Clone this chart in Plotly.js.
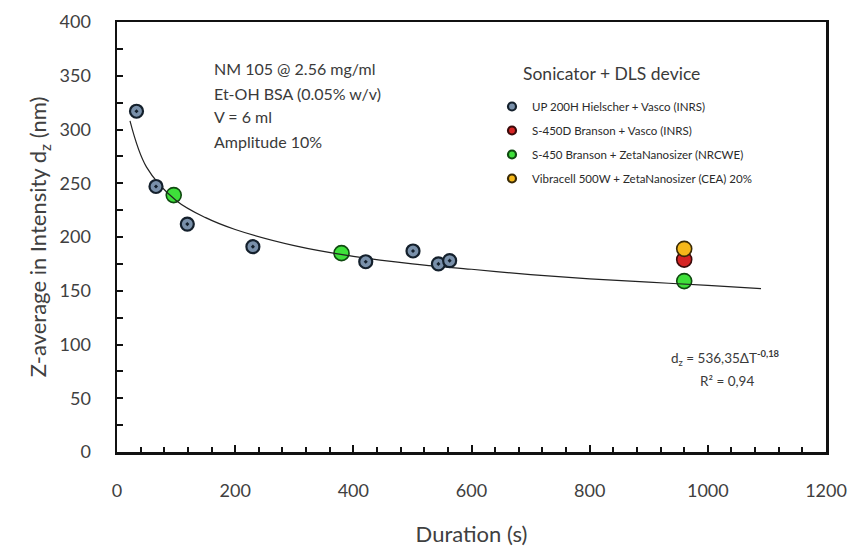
<!DOCTYPE html>
<html>
<head>
<meta charset="utf-8">
<script src="https://cdn.plot.ly/plotly-3.0.1.min.js"></script>
<style>html,body{margin:0;padding:0;background:#fff;}#chart{width:852px;height:547px;}</style>
</head>
<body>
<div id="chart"></div>
<script>
// --- data ---
const hielscherX = [33, 66, 119, 230, 421, 501, 544, 563];
const hielscherY = [317, 247, 212, 191, 177, 187, 175, 178];
const bransonDX = [960];
const bransonDY = [179];
const bransonNX = [96, 380, 960];
const bransonNY = [239, 185, 159];
const vibracellX = [960];
const vibracellY = [189];
// fitted power trend line
const fitX = [22, 50, 100, 150, 200, 300, 400, 500, 600, 700, 800, 900, 1000, 1090];
const fitY = [308, 265, 234, 218, 207, 192, 182, 175, 170, 165, 161, 158, 155, 152];
const legendTitle = 'Sonicator + DLS device';
const seriesNames = [
  'UP 200H Hielscher + Vasco (INRS)',
  'S-450D Branson + Vasco (INRS)',
  'S-450 Branson + ZetaNanosizer (NRCWE)',
  'Vibracell 500W + ZetaNanosizer (CEA) 20%'
];
const infoLines = ['NM 105 @ 2.56 mg/ml', 'Et-OH BSA (0.05% w/v)', 'V = 6 ml', 'Amplitude 10%'];

const FONT = 'Lato, "Open Sans", sans-serif';
const fills = ['#7990aa', '#d62424', '#3ee03a', '#f6b81a'];
const edges = ['#14202c', '#3a0a0a', '#0f4a10', '#3a2a05'];

const traces = [];
traces.push({x: bransonNX, y: bransonNY, type: 'scatter', mode: 'markers', showlegend: false,
  marker: {size: 15, color: fills[2], line: {color: edges[2], width: 1.6}}});
traces.push({x: fitX, y: fitY, type: 'scatter', mode: 'lines', showlegend: false,
  line: {color: '#222', width: 1.2, shape: 'spline'}});
traces.push({x: hielscherX, y: hielscherY, type: 'scatter', mode: 'markers', showlegend: false,
  marker: {size: 13, symbol: 'circle-dot', color: fills[0], line: {color: edges[0], width: 2.2}}});
traces.push({x: bransonDX, y: bransonDY, type: 'scatter', mode: 'markers', showlegend: false,
  marker: {size: 15, color: fills[1], line: {color: edges[1], width: 1.6}}});
traces.push({x: vibracellX, y: vibracellY, type: 'scatter', mode: 'markers', showlegend: false,
  marker: {size: 15, color: fills[3], line: {color: edges[3], width: 1.6}}});
for (let i = 0; i < seriesNames.length; i++) {
  traces.push({x: [null], y: [null], type: 'scatter', mode: 'markers', name: seriesNames[i],
    legendgroup: 'g' + i, showlegend: true,
    marker: {size: 8, color: fills[i], line: {color: edges[i], width: 2.2}}});
}

const px = v => (v - 117) / 709;
const py = v => (452 - v) / 430;

const annotations = [];
const infoY = [68, 93, 117, 141];
infoLines.forEach((t, i) => {
  annotations.push({xref: 'paper', yref: 'paper', x: px(212), y: py(infoY[i]),
    xanchor: 'left', yanchor: 'middle', text: t, showarrow: false,
    font: {family: FONT, size: 16, color: '#3a3a3a'}});
});
annotations.push({xref: 'paper', yref: 'paper', x: px(521), y: py(73),
  xanchor: 'left', yanchor: 'middle', text: legendTitle, showarrow: false,
  font: {family: FONT, size: 17.5, color: '#3a3a3a'}});
annotations.push({xref: 'paper', yref: 'paper', x: px(725), y: py(358),
  xanchor: 'center', yanchor: 'middle', showarrow: false,
  text: 'd<sub>z</sub> = 536,35ΔT<sup><b>-0,18</b></sup>', font: {family: FONT, size: 13.5, color: '#3a3a3a'}});
annotations.push({xref: 'paper', yref: 'paper', x: px(727), y: py(381),
  xanchor: 'center', yanchor: 'middle', showarrow: false,
  text: 'R² = 0,94', font: {family: FONT, size: 13.5, color: '#3a3a3a'}});

const layout = {
  width: 852, height: 547,
  margin: {l: 117, r: 26, t: 22, b: 95},
  paper_bgcolor: '#fff', plot_bgcolor: '#fff',
  font: {family: FONT, color: '#404040'},
  showlegend: true,
  legend: {
    x: px(492), y: py(92), xanchor: 'left', yanchor: 'top',
    bgcolor: 'rgba(0,0,0,0)', tracegroupgap: 5, traceorder: 'grouped',
    font: {family: FONT, size: 11.5, color: '#2a2a2a'},
    itemwidth: 30
  },
  xaxis: {
    range: [0, 1200], dtick: 200, tick0: 0,
    showgrid: false, zeroline: false,
    showline: true, linecolor: '#111', linewidth: 2.5, mirror: true,
    ticks: 'inside', ticklen: 7, tickwidth: 2, tickcolor: '#111',
    minor: {dtick: 40, ticks: 'inside', ticklen: 5, tickwidth: 2, tickcolor: '#111', showgrid: false},
    tickfont: {family: FONT, size: 18, color: '#404040'},
    ticklabelstandoff: 21,
    title: {text: 'Duration (s)', font: {family: FONT, size: 22, color: '#404040'}, standoff: 28}
  },
  yaxis: {
    range: [0, 400], dtick: 50, tick0: 0,
    showgrid: false, zeroline: false,
    showline: true, linecolor: '#111', linewidth: 2.5, mirror: true,
    ticks: 'inside', ticklen: 6, tickwidth: 2, tickcolor: '#111',
    minor: {dtick: 25, ticks: 'inside', ticklen: 6, tickwidth: 2, tickcolor: '#111', showgrid: false},
    tickfont: {family: FONT, size: 18, color: '#404040'},
    ticklabelstandoff: 20,
    title: {text: 'Z-average in Intensity d<sub>z</sub> (nm)', font: {family: FONT, size: 22, color: '#404040'}, standoff: 7}
  },
  annotations: annotations
};

Plotly.newPlot('chart', traces, layout, {displayModeBar: false, staticPlot: true});
</script>
</body>
</html>
